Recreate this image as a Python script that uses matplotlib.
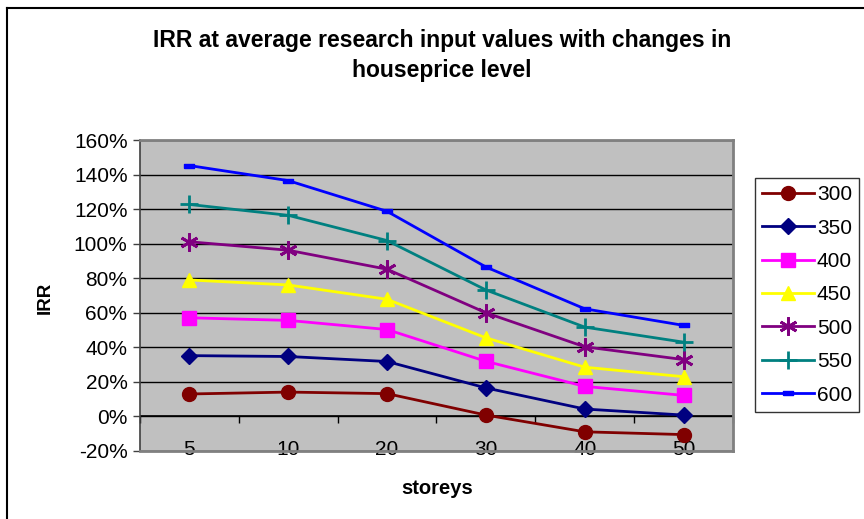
import matplotlib
matplotlib.use("Agg")
import matplotlib.pyplot as plt
from matplotlib.lines import Line2D
from matplotlib.ticker import FuncFormatter, FixedLocator

plt.rcParams['font.family'] = ['Liberation Sans', 'DejaVu Sans']

categories = ["5", "10", "20", "30", "40", "50"]
series_names = ["300", "350", "400", "450", "500", "550", "600"]
irr_300 = [0.130, 0.141, 0.132, 0.008, -0.089, -0.105]
irr_350 = [0.352, 0.347, 0.318, 0.165, 0.043, 0.008]
irr_400 = [0.571, 0.556, 0.503, 0.319, 0.174, 0.122]
irr_450 = [0.790, 0.761, 0.678, 0.455, 0.285, 0.230]
irr_500 = [1.011, 0.962, 0.852, 0.600, 0.403, 0.329]
irr_550 = [1.227, 1.164, 1.018, 0.732, 0.517, 0.430]
irr_600 = [1.452, 1.365, 1.187, 0.865, 0.623, 0.527]
y_ticks = [-0.2, 0.0, 0.2, 0.4, 0.6, 0.8, 1.0, 1.2, 1.4, 1.6]

all_series = [irr_300, irr_350, irr_400, irr_450, irr_500, irr_550, irr_600]
colors = ["#800000", "#000080", "#FF00FF", "#FFFF00", "#800080", "#008080", "#0000FF"]
bar_marker = [(-1, -0.45), (1, -0.45), (1, 0.45), (-1, 0.45), (-1, -0.45)]
markers = ["o", "D", "s", "^", (6, 2, 0), "+", bar_marker]
msizes = [10, 8, 10, 10, 13, 13, 7]

W, H = 864, 519
fig = plt.figure(figsize=(W / 100, H / 100), dpi=100)
left, right, top, bottom = 140, 733, 140, 451
ax = fig.add_axes([left / W, 1 - bottom / H, (right - left) / W, (bottom - top) / H])
ax.set_facecolor("#C0C0C0")

x = list(range(len(categories)))
for name, vals, c, m, ms in zip(series_names, all_series, colors, markers, msizes):
    ax.plot(x, vals, color=c, lw=2.0, marker=m, markersize=ms,
            markerfacecolor=c, markeredgecolor=c,
            markeredgewidth=2.0 if m == "+" or isinstance(m, tuple) else 1.0,
            label=name, zorder=3, clip_on=False)

ax.set_xlim(-0.5, len(categories) - 0.5)
ax.set_ylim(-0.2, 1.6)
ax.yaxis.set_major_locator(FixedLocator(y_ticks))
ax.yaxis.set_major_formatter(FuncFormatter(lambda v, p: f"{v*100:.0f}%"))
ax.grid(axis="y", color="black", lw=1.0, zorder=1)
ax.set_axisbelow(True)
ax.tick_params(axis="y", direction="out", length=5, width=1, color="#404040",
               labelsize=15, pad=4)
ax.set_xticks(x)
ax.set_xticklabels(categories)
ax.tick_params(axis="x", length=0, labelsize=15, pad=-8)

for s in ["top", "right", "bottom"]:
    ax.spines[s].set_color("#808080")
    ax.spines[s].set_linewidth(2.0)
ax.spines["left"].set_color("#404040")
ax.spines["left"].set_linewidth(1.2)

# category axis crossing at 0%
ax.axhline(0, color="black", lw=1.2, zorder=2)
sec = ax.secondary_xaxis(0.2 / 1.8)
sec.set_xticks([i - 0.5 for i in range(len(categories) + 1)])
sec.tick_params(axis="x", direction="out", length=5, width=1, color="black", labelbottom=False)
sec.spines["bottom"].set_visible(False)

fig.text(442 / W, 1 - 40 / H, "IRR at average research input values with changes in",
         ha="center", va="center", fontsize=16.5, fontweight="bold")
fig.text(442 / W, 1 - 70 / H, "houseprice level",
         ha="center", va="center", fontsize=16.5, fontweight="bold")
fig.text(45 / W, 1 - 298 / H, "IRR", rotation=90, ha="center", va="center",
         fontsize=13.5, fontweight="bold")
fig.text(437 / W, 1 - 488 / H, "storeys", ha="center", va="center",
         fontsize=14.5, fontweight="bold")

leg = fig.legend(loc="upper left", bbox_to_anchor=(755 / W, 1 - 178 / H),
                 bbox_transform=fig.transFigure, borderaxespad=0,
                 frameon=True, fancybox=False, edgecolor="black",
                 fontsize=15, handlelength=2.5, handletextpad=0.12,
                 labelspacing=0.69, borderpad=0.35)
leg.get_frame().set_linewidth(1.0)

fig.add_artist(Line2D([7 / W, 7 / W], [0, 1 - 8 / H], transform=fig.transFigure,
                      color="black", lw=1.5))
fig.add_artist(Line2D([7 / W, 1], [1 - 8 / H, 1 - 8 / H], transform=fig.transFigure,
                      color="black", lw=1.5))

fig.savefig("out.png", dpi=100)
